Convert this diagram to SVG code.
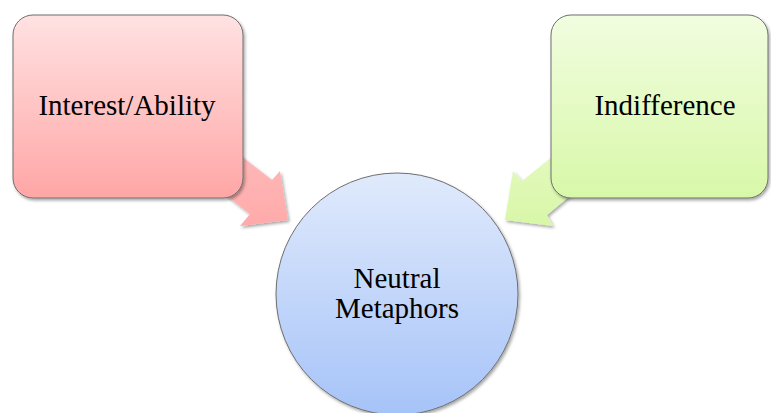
<svg xmlns="http://www.w3.org/2000/svg" width="771" height="413" viewBox="0 0 771 413">
  <defs>
    <linearGradient id="gPink" x1="0" y1="0" x2="0" y2="1">
      <stop offset="0" stop-color="#ffe2e2"/>
      <stop offset="1" stop-color="#ffa6a6"/>
    </linearGradient>
    <linearGradient id="gGreen" x1="0" y1="0" x2="0" y2="1">
      <stop offset="0" stop-color="#f1fde0"/>
      <stop offset="1" stop-color="#d8f8a8"/>
    </linearGradient>
    <linearGradient id="gBlue" x1="0" y1="0" x2="0" y2="1">
      <stop offset="0" stop-color="#e0eafc"/>
      <stop offset="1" stop-color="#a6c3f8"/>
    </linearGradient>
    <linearGradient id="gArrowPink" x1="0" y1="0" x2="0" y2="1">
      <stop offset="0" stop-color="#ffbdbd"/>
      <stop offset="1" stop-color="#ffaaaa"/>
    </linearGradient>
    <linearGradient id="gArrowGreen" x1="0" y1="0" x2="0" y2="1">
      <stop offset="0" stop-color="#e6fac4"/>
      <stop offset="1" stop-color="#d8f7a8"/>
    </linearGradient>
    <filter id="shadow" x="-10%" y="-10%" width="125%" height="125%">
      <feDropShadow dx="1.5" dy="2" stdDeviation="1.5" flood-color="#000" flood-opacity="0.35"/>
    </filter>
  </defs>
  <style>
    .box { stroke: #6e6e6e; stroke-width: 1; filter: url(#shadow); }
    .lbl { font-family: "Liberation Serif", "Times New Roman", serif; font-size: 29px; fill: #000; text-anchor: middle; }
  </style>
  <rect width="771" height="413" fill="#ffffff"/>
  <g id="connectors">
    <path id="arrow-left" d="M209,131 L272,180 L280,171 L288,220 L240,226 L250,214 L187,165 Z" fill="url(#gArrowPink)" filter="url(#shadow)"/>
    <path id="arrow-right" d="M584,131 L522,181 L513,171 L505,220 L553,226 L547,215 L607,165 Z" fill="url(#gArrowGreen)" filter="url(#shadow)"/>
  </g>
  <g id="node-interest">
    <rect class="box" x="13" y="15" width="230" height="183" rx="20" ry="20" fill="url(#gPink)"/>
    <text class="lbl" x="127" y="115">Interest/Ability</text>
  </g>
  <g id="node-indifference">
    <rect class="box" x="551" y="15" width="217" height="183" rx="20" ry="20" fill="url(#gGreen)"/>
    <text class="lbl" x="665" y="115">Indifference</text>
  </g>
  <g id="node-neutral">
    <circle class="box" cx="397" cy="294" r="121" fill="url(#gBlue)"/>
    <text class="lbl" x="397" y="288">Neutral</text>
    <text class="lbl" x="397" y="318">Metaphors</text>
  </g>
</svg>
